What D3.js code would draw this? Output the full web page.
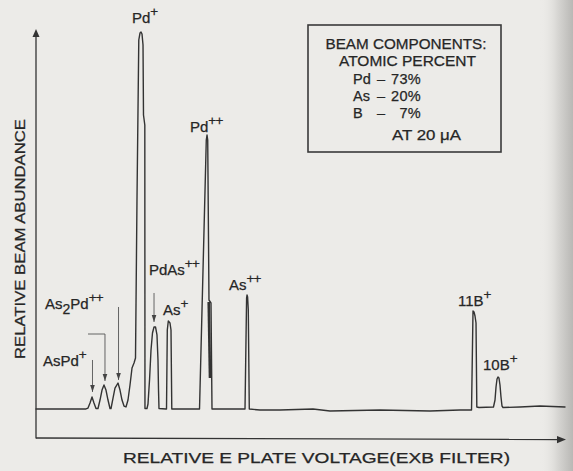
<!DOCTYPE html>
<html>
<head>
<meta charset="utf-8">
<script src="https://cdn.jsdelivr.net/npm/d3@7"></script>
<style>
  html, body { margin: 0; padding: 0; background: #ecebe8; }
  svg { display: block; }
  text { font-family: "Liberation Sans", Arial, Helvetica, sans-serif; fill: #262626; stroke: #262626; stroke-width: 0.25; }
</style>
</head>
<body>
<svg id="chart" width="573" height="471"></svg>
<script>
// ExB filter scan: relative E-plate voltage (0-100 along the axis)
const voltage = [
  0, 9.45, 9.83, 10.21, 10.59, 10.96, 11.34,
  11.72, 12.10, 12.48, 12.85, 13.23, 13.61, 13.99,
  14.18, 14.56, 14.93, 15.50, 15.88, 16.26, 16.64, 17.01,
  17.39, 17.77, 18.15, 18.53, 18.81,
  19.09, 19.43, 19.66, 19.85, 20.04, 20.23, 20.32, 20.57, 20.60,
  20.98, 21.17, 21.46, 21.74, 22.02, 22.31, 22.59, 22.87, 23.06, 23.16, 23.25,
  24.57, 24.67, 24.82, 25.01, 25.33, 25.52, 25.67,
  30.91, 32.19, 32.33, 32.46, 32.70, 33.08, 33.27,
  39.51, 39.81, 39.89, 40.00, 40.13, 40.32,
  42.34, 46.12, 52.36, 55.58, 65.03, 74.48, 80.15,
  82.33, 82.61, 82.80, 82.99, 83.18, 83.33,
  83.74, 86.48, 86.77, 86.96, 87.15, 87.33, 87.52, 87.71, 87.90, 88.09, 88.28,
  91.49, 95.27, 100
];
// relative beam abundance (0-100 up the axis)
const abundance = [
  7.11, 7.11, 7.35, 8.58, 10.05, 8.58, 7.23,
  7.23, 9.31, 11.76, 12.99, 11.76, 9.31, 7.23,
  7.23, 9.80, 12.25, 13.48, 11.76, 9.31, 7.84, 7.60,
  9.31, 12.99, 17.16, 18.38, 19.61,
  58.33, 97.55, 99.26, 99.51, 99.02, 96.32, 79.17, 76.72, 7.23,
  7.23, 8.33, 14.22, 21.57, 25.74, 27.21, 27.21, 25.25, 19.12, 11.76, 7.23,
  7.11, 7.11, 26.47, 28.68, 28.19, 26.47, 7.11,
  7.11, 73.04, 74.26, 73.04, 33.82, 33.09, 7.11,
  7.11, 34.31, 35.05, 34.56, 31.37, 7.11,
  6.86, 6.86, 7.11, 6.62, 6.86, 6.62, 6.86,
  6.86, 31.13, 30.88, 29.90, 28.19, 7.60,
  7.48, 7.60, 9.31, 12.50, 14.46, 14.95, 14.71, 12.99, 10.05, 7.84, 7.48,
  7.60, 7.84, 7.60
];
// second pen stroke on the falling side of Pd++
const tailVoltage = [32.65, 32.89];
const tailAbundance = [33.33, 14.71];

// peak identifications
const peakLabels = ["Pd+", "Pd++", "As2Pd++", "AsPd+", "PdAs++", "As+", "As++", "11B+", "10B+"];

// beam composition panel
const components = ["Pd", "As", "B"];
const atomicPercent = [73, 20, 7];
const beamCurrent = "20 \u03BCA";

const xTitle = "RELATIVE E PLATE VOLTAGE(EXB FILTER)";
const yTitle = "RELATIVE BEAM ABUNDANCE";

// ---- layout ----
const W = 573, H = 471;
const x = d3.scaleLinear().domain([0, 100]).range([36, 565]);
const y = d3.scaleLinear().domain([0, 100]).range([438, 30]);

// label anchors (voltage, abundance) for each peak name, same order as peakLabels
const labelAnchor = [
  [18.15, 101.7], [29.11, 75.0], [1.70, 31.6], [1.32, 17.6], [21.36, 39.9],
  [24.01, 30.15], [36.48, 36.3], [79.77, 32.35], [84.50, 16.67]
];
// annotation arrows, as polylines in (voltage, abundance); the last point is the tip
const arrows = [
  [[10.68, 19.12], [10.68, 11.27]],
  [[9.83, 25.49], [13.04, 25.49], [13.04, 13.97]],
  [[15.60, 32.11], [15.60, 14.22]],
  [[22.31, 35.54], [22.31, 28.43]]
];

const svg = d3.select("#chart");

// paper tone with darker gutter at the right edge
const defs = svg.append("defs");
const grad = defs.append("linearGradient").attr("id", "gutter").attr("x1", "0").attr("x2", "1");
grad.append("stop").attr("offset", "0").attr("stop-color", "#ecebe8").attr("stop-opacity", 0);
grad.append("stop").attr("offset", "0.55").attr("stop-color", "#d6d5d2").attr("stop-opacity", 1);
grad.append("stop").attr("offset", "1").attr("stop-color", "#b9b8b5").attr("stop-opacity", 1);
svg.append("rect").attr("width", W).attr("height", H).attr("fill", "#ecebe8");
svg.append("rect").attr("x", 540).attr("width", 33).attr("height", H).attr("fill", "url(#gutter)");

const ink = "#333";

// axes with arrowheads
const [x0, x1] = x.range();
const [yb, yt] = y.range();
svg.append("line").attr("x1", x0).attr("y1", yb + 0.5).attr("x2", x0).attr("y2", yt + 4)
  .attr("stroke", ink).attr("stroke-width", 1.3);
svg.append("path").attr("d", `M${x0 - 3.5},${yt + 7} L${x0},${yt - 1} L${x0 + 3.5},${yt + 7} Z`).attr("fill", ink);
svg.append("line").attr("x1", x0).attr("y1", yb).attr("x2", x1 - 4).attr("y2", yb + 1.5)
  .attr("stroke", ink).attr("stroke-width", 1.3);
svg.append("path").attr("d", `M${x1 - 8},${yb - 2} L${x1 + 1},${yb + 1.6} L${x1 - 8},${yb + 5.2} Z`).attr("fill", ink);

// spectrum trace
const trace = voltage.map((v, i) => [v, abundance[i]]);
const line = d3.line().x(d => x(d[0])).y(d => y(d[1]));
svg.append("path").datum(trace).attr("d", line)
  .attr("fill", "none").attr("stroke", ink).attr("stroke-width", 1.4)
  .attr("stroke-linejoin", "round").attr("stroke-linecap", "round");
const tail = tailVoltage.map((v, i) => [v, tailAbundance[i]]);
svg.append("path").datum(tail).attr("d", line)
  .attr("fill", "none").attr("stroke", ink).attr("stroke-width", 2.6);

// annotation arrows
arrows.forEach(pts => {
  svg.append("path").attr("d", line(pts)).attr("fill", "none")
    .attr("stroke", "#555").attr("stroke-width", 0.9);
  const tip = pts[pts.length - 1];
  const tx = x(tip[0]), ty = y(tip[1]);
  svg.append("path").attr("d", `M${tx - 2.3},${ty - 7} L${tx},${ty} L${tx + 2.3},${ty - 7} Z`).attr("fill", "#444");
});

// peak labels: digits after a letter drop to subscript, trailing + signs go up
peakLabels.forEach((lab, i) => {
  const t = svg.append("text")
    .attr("x", x(labelAnchor[i][0])).attr("y", y(labelAnchor[i][1]))
    .attr("font-size", 15);
  const tokens = lab.match(/[A-Za-z]+|\d+|\++/g);
  let prevLetter = false, shift = 0;
  tokens.forEach(tok => {
    let dy = 0, size = 15;
    const isSup = /^\++$/.test(tok);
    if (/^\d+$/.test(tok) && prevLetter) { dy = 5 - shift; shift = 5; size = 14; }
    else if (isSup) { dy = -7 - shift; shift = -7; size = 13.5; }
    else { dy = -shift; shift = 0; }
    t.append("tspan").attr("dy", dy).attr("font-size", size)
      .attr("letter-spacing", isSup ? -0.8 : 0).text(tok);
    prevLetter = /^[A-Za-z]+$/.test(tok);
  });
});

// composition panel
const box = { x: 308, y: 25, w: 193, h: 127 };
svg.append("rect").attr("x", box.x).attr("y", box.y).attr("width", box.w).attr("height", box.h)
  .attr("fill", "none").attr("stroke", "#3a3a3a").attr("stroke-width", 1.6);
svg.append("text").attr("x", 406).attr("y", 48.5).attr("text-anchor", "middle")
  .attr("font-size", 14.5).attr("textLength", 161).attr("lengthAdjust", "spacingAndGlyphs")
  .text("BEAM COMPONENTS:");
svg.append("text").attr("x", 407.5).attr("y", 66).attr("text-anchor", "middle")
  .attr("font-size", 14.5).attr("textLength", 137).attr("lengthAdjust", "spacingAndGlyphs")
  .text("ATOMIC PERCENT");
components.forEach((c, i) => {
  const by = 83.5 + i * 17.3;
  svg.append("text").attr("x", 353).attr("y", by).attr("font-size", 14.5).text(c);
  svg.append("text").attr("x", 381).attr("y", by).attr("font-size", 14.5).attr("text-anchor", "middle").text("\u2013");
  svg.append("text").attr("x", 421).attr("y", by).attr("font-size", 14.5).attr("text-anchor", "end")
    .attr("letter-spacing", 0.3).text(atomicPercent[i] + "%");
});
svg.append("text").attr("x", 392).attr("y", 140).attr("font-size", 14.5)
  .attr("textLength", 69).attr("lengthAdjust", "spacingAndGlyphs").text("AT " + beamCurrent);

// axis titles
svg.append("text").attr("x", 123).attr("y", 463).attr("font-size", 14.5)
  .attr("textLength", 387).attr("lengthAdjust", "spacingAndGlyphs").text(xTitle);
svg.append("text").attr("transform", "translate(25,359) rotate(-90)").attr("font-size", 14.5)
  .attr("textLength", 240).attr("lengthAdjust", "spacingAndGlyphs").text(yTitle);
</script>
</body>
</html>
